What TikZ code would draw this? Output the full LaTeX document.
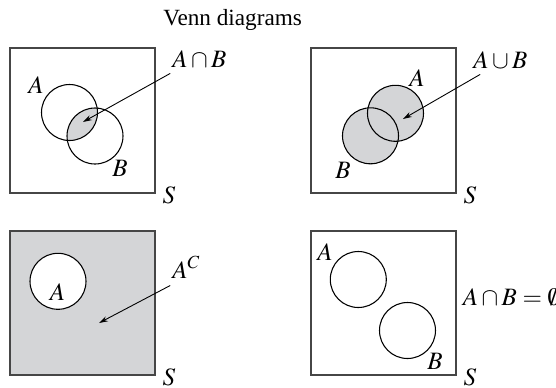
\documentclass[tikz,border=0pt]{standalone}
\usepackage{mathptmx}
\usepackage{fontspec}
\setmainfont{Liberation Serif}
\usepackage{tikz}
\usetikzlibrary{arrows.meta,calc,positioning}
\definecolor{vennfill}{RGB}{212,213,215}
\definecolor{framegray}{RGB}{70,70,70}

\begin{document}
\begin{tikzpicture}[x=0.56pt,y=-0.56pt,
universe/.style={draw=framegray,line width=0.7pt},
setline/.style={draw=black,line width=0.6pt},
pointer/.style={-{Stealth[length=5pt,width=3pt]},line width=0.5pt},
lbl/.style={inner sep=0pt,font=\fontsize{14}{16}\selectfont},
tag/.style={lbl,anchor=base west},]
\useasboundingbox (0,0) rectangle (556,388);

\node[inner sep=0pt,anchor=base west,font=\fontsize{13}{15}\selectfont] (title) at (163,25) {Venn diagrams};

% A intersect B
\coordinate (ca1) at (69.5,112.5);
\coordinate (cb1) at (95,136);
\begin{scope}
  \clip (ca1) circle[radius=28];
  \fill[vennfill] (cb1) circle[radius=28];
\end{scope}
\draw[universe] (10,48) rectangle (155,193);
\draw[setline] (ca1) circle[radius=28];
\draw[setline] (cb1) circle[radius=28];
\node[lbl] (a1) at (36,85) {$A$};
\node[lbl] (b1) at (120,168.5) {$B$};
\node[lbl] (s1) at (169,195) {$S$};
\node[tag] (lab1) at (172,67) {$A \cap B$};
\coordinate (tip1) at (83,122);
\draw[pointer] ([xshift=-1pt,yshift=-3.4pt]lab1.south west) -- (tip1);

% A union B
\coordinate (ca2) at (395.5,113.3);
\coordinate (cb2) at (370.5,135.8);
\fill[vennfill] (ca2) circle[radius=28];
\fill[vennfill] (cb2) circle[radius=28];
\draw[universe] (311,48) rectangle (456,193);
\draw[setline] (ca2) circle[radius=28];
\draw[setline] (cb2) circle[radius=28];
\node[lbl] (a2) at (417,78) {$A$};
\node[lbl] (b2) at (343,170) {$B$};
\node[lbl] (s2) at (470,195.5) {$S$};
\node[tag] (lab2) at (473,68) {$A \cup B$};
\coordinate (tip2) at (403,119);
\draw[pointer] ([xshift=4pt,yshift=-3.4pt]lab2.south west) -- (tip2);

% complement
\coordinate (ca3) at (58,281.3);
\fill[vennfill] (10,231) rectangle (155,375);
\draw[universe] (10,231) rectangle (155,375);
\draw[setline,fill=white] (ca3) circle[radius=28];
\node[lbl] (a3) at (57.5,292.5) {$A$};
\node[lbl] (s3) at (169,377.5) {$S$};
\node[tag] (lab3) at (172,278) {$A^{C}$};
\coordinate (tip3) at (99,323);
\draw[pointer] ([xshift=-1pt,yshift=-4pt]lab3.south west) -- (tip3);

% disjoint
\coordinate (ca4) at (358.3,279.5);
\coordinate (cb4) at (407.5,330.5);
\draw[universe] (311,231) rectangle (456,375);
\draw[setline] (ca4) circle[radius=28];
\draw[setline] (cb4) circle[radius=28];
\node[lbl] (a4) at (325,252) {$A$};
\node[lbl] (b4) at (435,361.5) {$B$};
\node[lbl] (s4) at (470,377.5) {$S$};
\node[tag] (lab4) at (462.5,305) {$A \cap B = \emptyset$};

\end{tikzpicture}
\end{document}
